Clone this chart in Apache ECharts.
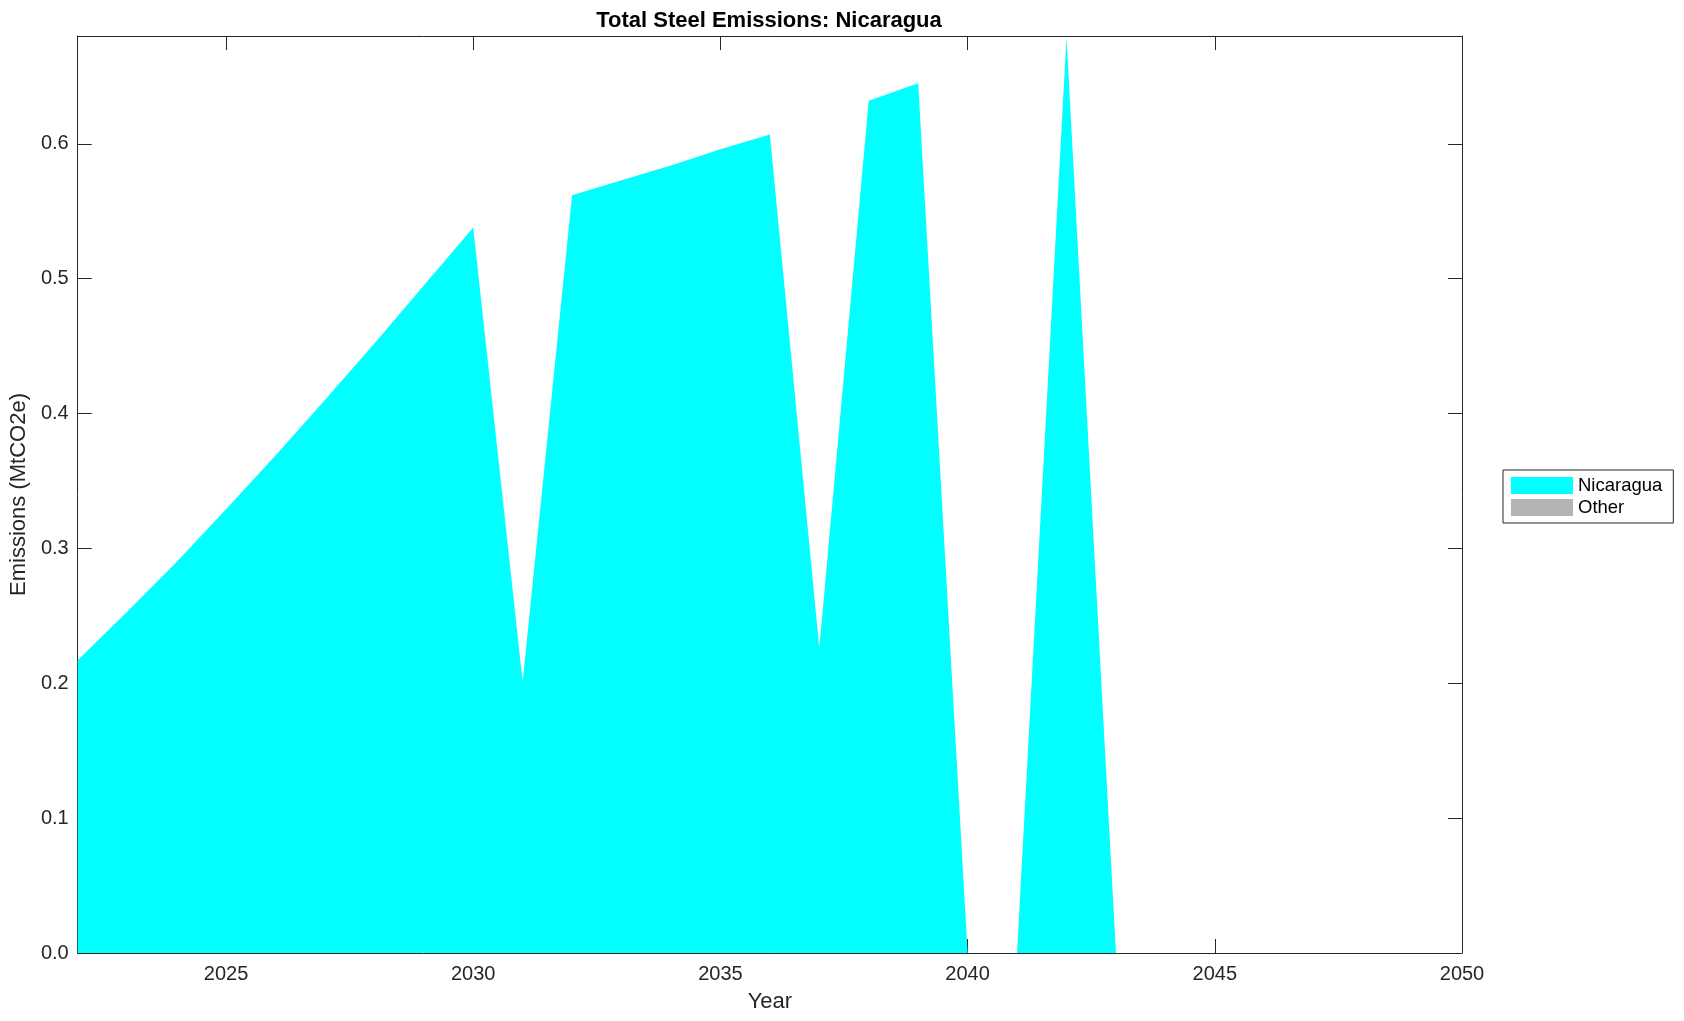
<!DOCTYPE html>
<html>
<head>
<meta charset="utf-8">
<script src="https://cdn.jsdelivr.net/npm/echarts@6/dist/echarts.min.js"></script>
<style>
  html, body { margin: 0; padding: 0; background: #ffffff; }
  #chart { width: 1684px; height: 1021px; }
</style>
</head>
<body>
<div id="chart"></div>
<script>
// ---- Data ----
const years = [2022, 2023, 2024, 2025, 2026, 2027, 2028, 2029, 2030, 2031,
               2032, 2033, 2034, 2035, 2036, 2037, 2038, 2039, 2040, 2041,
               2042, 2043, 2044, 2045, 2046, 2047, 2048, 2049, 2050];
const nicaragua = [0.217, 0.253, 0.290, 0.329, 0.369, 0.410, 0.452, 0.495, 0.538, 0.201,
                   0.562, 0.573, 0.584, 0.596, 0.607, 0.226, 0.632, 0.645, 0.0, 0.0,
                   0.679, 0.0, 0.0, 0.0, 0.0, 0.0, 0.0, 0.0, 0.0];
const other = [0, 0, 0, 0, 0, 0, 0, 0, 0, 0,
               0, 0, 0, 0, 0, 0, 0, 0, 0, 0,
               0, 0, 0, 0, 0, 0, 0, 0, 0];
const xTicks = [2025, 2030, 2035, 2040, 2045, 2050];
const yTicks = [0, 0.1, 0.2, 0.3, 0.4, 0.5, 0.6];
const seriesNames = ['Nicaragua', 'Other'];
const titleText = 'Total Steel Emissions: Nicaragua';
const xName = 'Year';
const yName = 'Emissions (MtCO2e)';

// ---- Chart ----
const FONT = '"Liberation Sans", Arial, Helvetica, sans-serif';
const AX = '#262626';
const chart = echarts.init(document.getElementById('chart'), null, { renderer: 'canvas' });

const toPairs = arr => years.map((y, i) => [y, arr[i]]);

const xBase = {
  type: 'value', min: 2022, max: 2050,
  splitLine: { show: false },
  axisLine: { show: true, onZero: false, lineStyle: { color: AX, width: 1 } },
  axisTick: { show: true, inside: true, length: 14, customValues: xTicks, lineStyle: { color: AX, width: 1 } }
};
const yBase = {
  type: 'value', min: 0, max: 0.68,
  splitLine: { show: false },
  axisLine: { show: true, onZero: false, lineStyle: { color: AX, width: 1 } },
  axisTick: { show: true, inside: true, length: 14, customValues: yTicks, lineStyle: { color: AX, width: 1 } }
};

chart.setOption({
  animation: false,
  backgroundColor: '#ffffff',
  title: {
    text: titleText,
    left: 764, top: 5, textAlign: 'center',
    textStyle: { fontFamily: FONT, fontSize: 22, fontWeight: 'bold', color: '#000000' }
  },
  legend: {
    orient: 'vertical',
    left: 1503, top: 470,
    data: seriesNames,
    icon: 'rect',
    itemWidth: 62, itemHeight: 17, itemGap: 3,
    padding: [6, 11, 6, 8],
    borderColor: AX, borderWidth: 1,
    backgroundColor: '#ffffff',
    textStyle: { fontFamily: FONT, fontSize: 18.5, color: '#000000' }
  },
  grid: { left: 76, right: 222, top: 36, bottom: 68, containLabel: false },
  xAxis: [
    Object.assign({}, xBase, {
      position: 'bottom',
      name: xName, nameLocation: 'middle', nameGap: 38,
      nameTextStyle: { fontFamily: FONT, fontSize: 22, color: AX },
      axisLabel: { show: true, margin: 11, customValues: xTicks, fontFamily: FONT, fontSize: 20, color: AX, formatter: v => String(v) }
    }),
    Object.assign({}, xBase, { position: 'top', axisLabel: { show: false } })
  ],
  yAxis: [
    Object.assign({}, yBase, {
      position: 'left',
      name: yName, nameLocation: 'middle', nameGap: 46, nameRotate: 90,
      nameTextStyle: { fontFamily: FONT, fontSize: 22, color: AX },
      axisLabel: { show: true, margin: 9, customValues: yTicks, fontFamily: FONT, fontSize: 20, color: AX, formatter: v => Number(v).toFixed(1) }
    }),
    Object.assign({}, yBase, { position: 'right', axisLabel: { show: false } })
  ],
  series: [
    {
      name: seriesNames[0], type: 'line', stack: 'total',
      xAxisIndex: 0, yAxisIndex: 0,
      data: toPairs(nicaragua),
      showSymbol: false, symbol: 'none',
      lineStyle: { width: 0, color: '#00ffff' },
      itemStyle: { color: '#00ffff' },
      areaStyle: { color: '#00ffff', opacity: 1 },
      z: 2
    },
    {
      name: seriesNames[1], type: 'line', stack: 'total',
      xAxisIndex: 0, yAxisIndex: 0,
      data: toPairs(other),
      showSymbol: false, symbol: 'none',
      lineStyle: { width: 0, color: '#b3b3b3' },
      itemStyle: { color: '#b3b3b3' },
      areaStyle: { color: '#b3b3b3', opacity: 1 },
      z: 1
    }
  ]
});
</script>
</body>
</html>
